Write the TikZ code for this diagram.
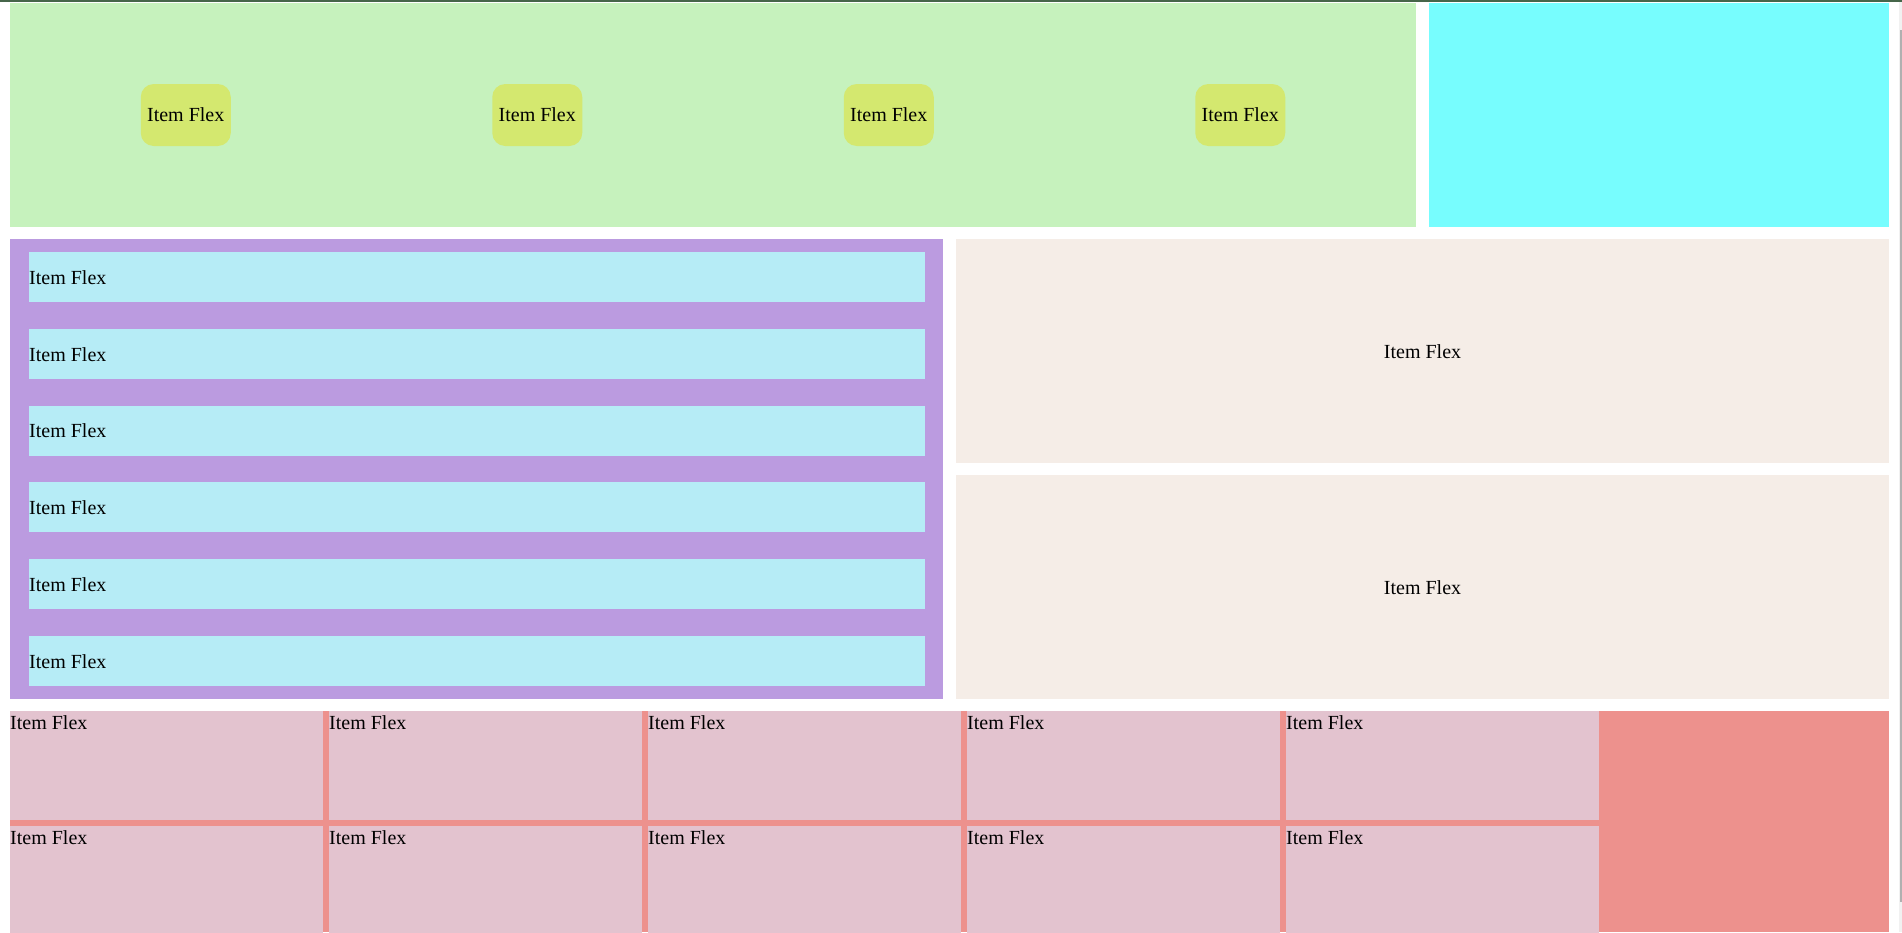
\documentclass[tikz,border=0pt]{standalone}
\usepackage{fontspec}
\setmainfont{Liberation Serif}
\definecolor{topbar}{HTML}{46664A}
\definecolor{headgreen}{HTML}{C6F2BD}
\definecolor{headcyan}{HTML}{77FDFE}
\definecolor{chipyellow}{HTML}{D4E86F}
\definecolor{listpurple}{HTML}{BB9BE0}
\definecolor{rowcyan}{HTML}{B6ECF6}
\definecolor{panelbeige}{HTML}{F5EDE7}
\definecolor{gridred}{HTML}{ED918D}
\definecolor{cellpink}{HTML}{E3C3CF}
\definecolor{scrolltrack}{HTML}{F1F1F1}
\definecolor{scrollthumb}{HTML}{B0B0B0}
\begin{document}
\begin{tikzpicture}[x=1pt,y=-1pt,
  lbl/.style={inner sep=0pt, text=black, font=\fontsize{20}{24}\selectfont}]
\useasboundingbox (0,0) rectangle (1902,932);
\fill[white] (0,0) rectangle (1902,932);
% window top edge and scrollbar
\fill[topbar] (0,0) rectangle (1902,2);
\fill[scrolltrack] (1899,2) rectangle (1902,932);
\fill[scrollthumb] (1900,30) rectangle (1901.6,902);

% header row: chip strip and plain block
\fill[headgreen] (10,3) rectangle (1416,227);
\fill[headcyan] (1429,3) rectangle (1889,227);
\foreach \i in {0,...,3} {
  \pgfmathsetmacro\cx{185.75+351.5*\i}
  \fill[chipyellow, rounded corners=13pt] ({\cx-45},84) rectangle ({\cx+45},146);
  \node[lbl, anchor=base] (chip\i) at (\cx,121.7) {Item Flex};
}

% stacked list column
\fill[listpurple] (10,239) rectangle (943,699);
\foreach \i in {0,...,5} {
  \pgfmathsetmacro\yy{252+76.8*\i}
  \fill[rowcyan] (29,\yy) rectangle (925,{\yy+50});
  \node[lbl, anchor=base west] (row\i) at (29,{\yy+32.3}) {Item Flex};
}

% two centred panels
\fill[panelbeige] (956,239) rectangle (1889,463);
\fill[panelbeige] (956,475) rectangle (1889,699);
\node[lbl, anchor=base] (panelA) at (1422.5,358) {Item Flex};
\node[lbl, anchor=base] (panelB) at (1422.5,594) {Item Flex};

% wrapping grid
\fill[gridred] (10,711) rectangle (1889,932);
\foreach \c in {0,...,4} {
  \foreach \r in {0,1} {
    \pgfmathsetmacro\xx{10+319*\c}
    \pgfmathsetmacro\yy{711+115*\r}
    \pgfmathsetmacro\hh{\r==0 ? 109 : 120}
    \fill[cellpink] (\xx,\yy) rectangle ({\xx+313},{\yy+\hh});
    \node[lbl, anchor=base west] (cell\c\r) at (\xx,{\yy+18.3}) {Item Flex};
  }
}
\end{tikzpicture}
\end{document}
